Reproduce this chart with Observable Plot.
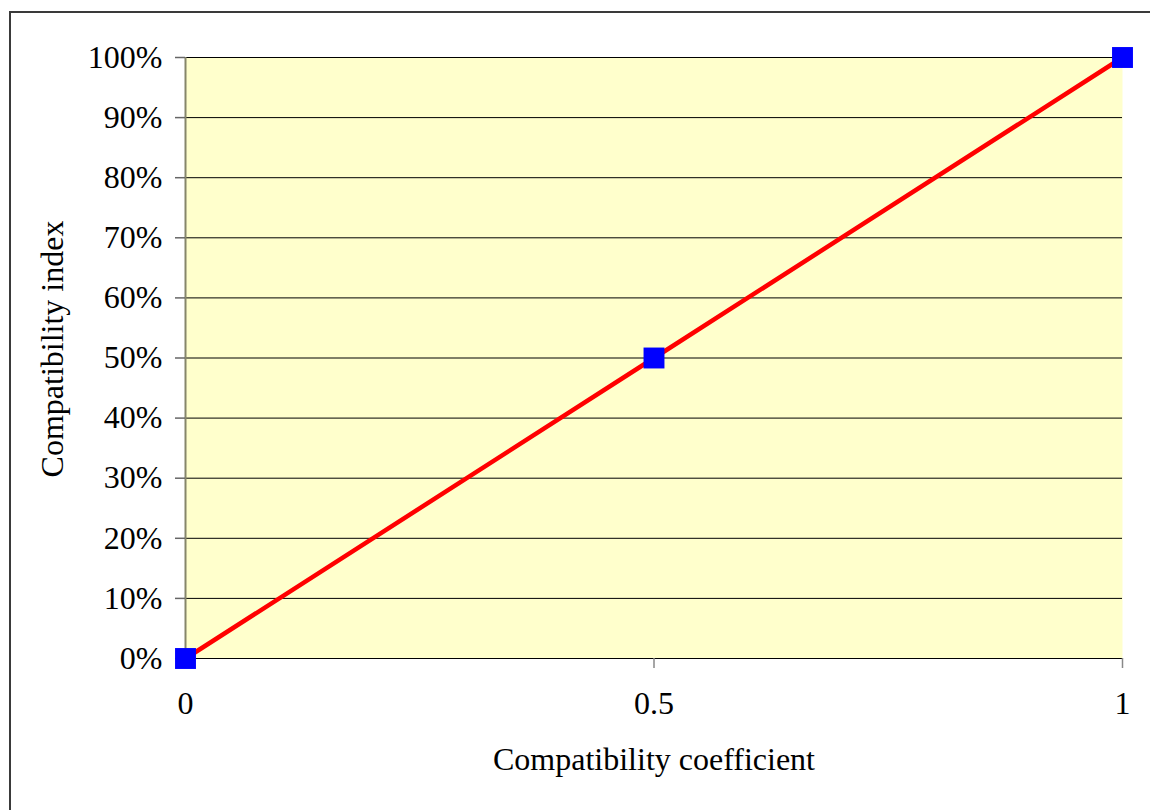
<!DOCTYPE html>
<html>
<head>
<meta charset="utf-8">
<script src="https://cdn.jsdelivr.net/npm/d3@7"></script>
<script src="https://cdn.jsdelivr.net/npm/@observablehq/plot@0.6"></script>
<style>
  html, body { margin: 0; padding: 0; background: #fff; overflow: hidden; }
  #wrap { position: relative; width: 1150px; height: 810px; }
  #frame { position: absolute; left: 9px; top: 11px; width: 1300px; height: 1000px; border: 2px solid #3a3a3a; box-sizing: border-box; }
  #chart { position: absolute; left: 0; top: 0; }
</style>
</head>
<body>
<div id="wrap"><div id="frame"></div><div id="chart"></div></div>
<script>
const coefficients = [0, 0.5, 1];
const indexValues = [0, 0.5, 1];
const xTicks = [0, 0.5, 1];
const yTicks = [0, 0.1, 0.2, 0.3, 0.4, 0.5, 0.6, 0.7, 0.8, 0.9, 1];
const xTitle = "Compatibility coefficient";
const yTitle = "Compatibility index";

const data = coefficients.map((c, i) => ({x: c, y: indexValues[i]}));
const font = "'Liberation Serif', 'Times New Roman', serif";

const chart = Plot.plot({
  width: 1150,
  height: 810,
  marginLeft: 185,
  marginRight: 28,
  marginTop: 57,
  marginBottom: 152,
  style: {fontFamily: font, fontSize: "32px", color: "#000", background: "transparent", overflow: "visible"},
  x: {domain: [0, 1]},
  y: {domain: [0, 1]},
  marks: [
    Plot.frame({fill: "#FFFFCC", stroke: null}),
    Plot.ruleY(yTicks, {stroke: "#000", strokeWidth: 1}),
    Plot.ruleX([0], {stroke: "#86866a", strokeWidth: 2}),
    Plot.axisY({ticks: yTicks, tickFormat: d3.format(".0%"), tickSize: 10, tickPadding: 13, stroke: "#666", strokeWidth: 1.5, label: null, fontSize: 32}),
    Plot.axisX({ticks: xTicks, tickFormat: d => String(d), tickSize: 10, tickPadding: 23, stroke: "#888", strokeWidth: 1.5, label: null, fontSize: 32}),
    Plot.text([xTitle], {frameAnchor: "bottom", dy: 111, fontSize: 32, fill: "#000"}),
    Plot.text([yTitle], {frameAnchor: "left", textAnchor: "middle", dx: -133, dy: -9, rotate: -90, fontSize: 32, fill: "#000"}),
    Plot.line(data, {x: "x", y: "y", stroke: "#FF0000", strokeWidth: 4.5}),
    Plot.dot(data, {x: "x", y: "y", symbol: "square", r: 11.8, fill: "#0000FF", stroke: null})
  ]
});
document.getElementById("chart").appendChild(chart);
</script>
</body>
</html>
